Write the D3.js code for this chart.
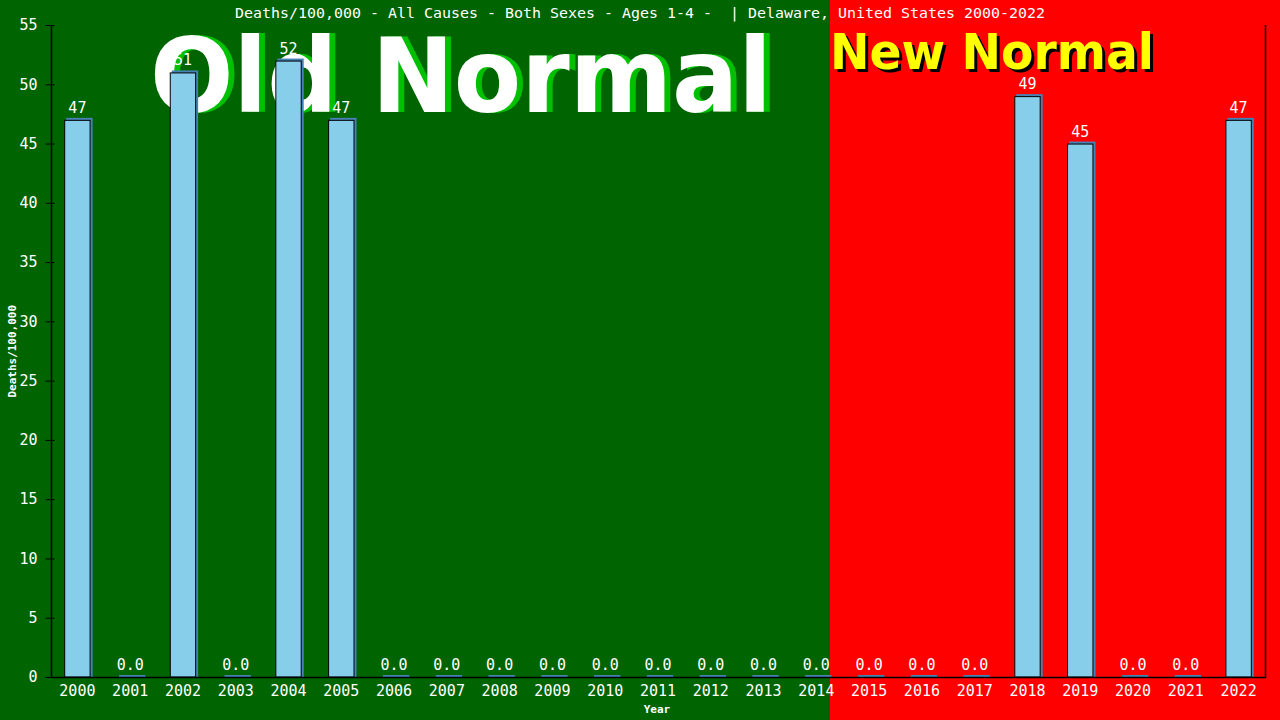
<!DOCTYPE html>
<html>
<head>
<meta charset="utf-8">
<script src="https://cdn.jsdelivr.net/npm/d3@7"></script>
<style>
  body { margin: 0; background: #000; }
  svg { display: block; }
  text { font-family: "DejaVu Sans Mono", monospace; fill: #fff; }
</style>
</head>
<body>
<div id="chart"></div>
<script>
// Data
const years = ["2000", "2001", "2002", "2003", "2004", "2005", "2006", "2007", "2008", "2009", "2010", "2011",
    "2012", "2013", "2014", "2015", "2016", "2017", "2018", "2019", "2020", "2021", "2022"];
const deaths = [47, 0, 51, 0, 52, 47, 0, 0, 0, 0, 0, 0, 0, 0, 0, 0, 0, 0, 49, 45, 0, 0, 47];
const yTicks = [0, 5, 10, 15, 20, 25, 30, 35, 40, 45, 50, 55];
const titleText = "Deaths/100,000 - All Causes - Both Sexes - Ages 1-4 -  | Delaware, United States 2000-2022";

const width = 1280;
const height = 720;
const margin = { top: 25, right: 15, bottom: 43, left: 51 };
const splitX = 830;

const svg = d3.select("#chart")
    .append("svg")
    .attr("width", width)
    .attr("height", height);

// Background halves
svg.append("rect").attr("x", 0).attr("y", 0).attr("width", splitX).attr("height", height).attr("fill", "#006400");
svg.append("rect").attr("x", splitX).attr("y", 0).attr("width", width - splitX).attr("height", height).attr("fill", "#ff0000");

// Scales
const xScale = d3.scaleBand()
    .domain(years)
    .range([margin.left, width - margin.right])
    .paddingInner(0.5)
    .paddingOuter(0.25);

const yScale = d3.scaleLinear()
    .domain([0, 55])
    .range([height - margin.bottom, margin.top]);

// Big banner texts
const banner = (txt, x, y, size, len, fill, shadow, dx, dy) => {
    const g = svg.append("g");
    [[shadow, dx, dy], [fill, 0, 0]].forEach(([c, ox, oy]) => {
        g.append("text")
            .attr("x", x + ox)
            .attr("y", y + oy)
            .attr("textLength", len)
            .attr("lengthAdjust", "spacingAndGlyphs")
            .style("font-family", "'DejaVu Sans', Verdana, sans-serif")
            .style("font-weight", "bold")
            .style("font-size", size + "px")
            .style("fill", c)
            .text(txt);
    });
};
banner("Old Normal", 150, 112, 104, 622, "#ffffff", "#00c000", 6, 0);
banner("New Normal", 830, 69, 50, 324, "#ffff00", "#000000", 3, 3);

// Title
svg.append("text")
    .attr("x", 640)
    .attr("y", 18)
    .attr("text-anchor", "middle")
    .attr("textLength", 810)
    .attr("lengthAdjust", "spacingAndGlyphs")
    .style("font-size", "14px")
    .style("white-space", "pre")
    .text(titleText);

// Bars: shadow then body
const bars = svg.append("g");
const items = years.map((y, i) => ({ year: y, value: deaths[i] }));

bars.selectAll(".shadow")
    .data(items)
    .enter()
    .append("rect")
    .attr("class", "shadow")
    .attr("x", d => xScale(d.year) + 2)
    .attr("y", d => yScale(d.value) - 2)
    .attr("width", xScale.bandwidth())
    .attr("height", d => yScale(0) - yScale(d.value) + 2)
    .attr("fill", "#4682b4");

bars.selectAll(".bar")
    .data(items.filter(d => d.value > 0))
    .enter()
    .append("rect")
    .attr("class", "bar")
    .attr("x", d => xScale(d.year) + 0.5)
    .attr("y", d => yScale(d.value) + 0.5)
    .attr("width", xScale.bandwidth() - 1)
    .attr("height", d => yScale(0) - yScale(d.value) - 0.5)
    .attr("fill", "#87ceeb")
    .attr("stroke", "#000")
    .attr("stroke-width", 1);

// Value labels
svg.append("g")
    .selectAll("text")
    .data(items)
    .enter()
    .append("text")
    .attr("x", d => xScale(d.year) + xScale.bandwidth() / 2)
    .attr("y", d => yScale(d.value) - 7)
    .attr("text-anchor", "middle")
    .style("font-size", "15px")
    .text(d => d.value > 0 ? d3.format("d")(d.value) : "0.0");

// Axes
const yAxis = d3.axisLeft(yScale)
    .tickValues(yTicks)
    .tickSize(6)
    .tickPadding(8);

const yG = svg.append("g")
    .attr("transform", `translate(${margin.left + 0.5},0)`)
    .call(yAxis);
yG.select(".domain").remove();
yG.selectAll(".tick line").attr("x1", -6).attr("x2", 3).attr("stroke", "#000");
yG.selectAll(".tick text").style("font-size", "15px").style("font-family", "'DejaVu Sans Mono', monospace").attr("fill", "#fff");

const xAxis = d3.axisBottom(xScale).tickSize(0).tickPadding(8);
const xG = svg.append("g")
    .attr("transform", `translate(0,${height - margin.bottom + 0.5})`)
    .call(xAxis);
xG.select(".domain").remove();
xG.selectAll(".tick text").style("font-size", "15px").style("font-family", "'DejaVu Sans Mono', monospace").attr("fill", "#fff");

// Frame lines: left, bottom, right
const x0 = margin.left + 0.5;
const x1 = width - margin.right + 0.5;
const yb = height - margin.bottom + 0.5;
svg.append("path")
    .attr("d", `M${x0},${margin.top}V${yb}H${x1}V${margin.top}`)
    .attr("fill", "none")
    .attr("stroke", "#000")
    .attr("stroke-width", 1.5);

// Axis titles
svg.append("text")
    .attr("transform", `translate(16,${(margin.top + yb) / 2}) rotate(-90)`)
    .attr("text-anchor", "middle")
    .style("font-size", "11px")
    .style("font-weight", "bold")
    .text("Deaths/100,000");

svg.append("text")
    .attr("x", 657)
    .attr("y", 713)
    .attr("text-anchor", "middle")
    .style("font-size", "11px")
    .style("font-weight", "bold")
    .text("Year");
</script>
</body>
</html>
